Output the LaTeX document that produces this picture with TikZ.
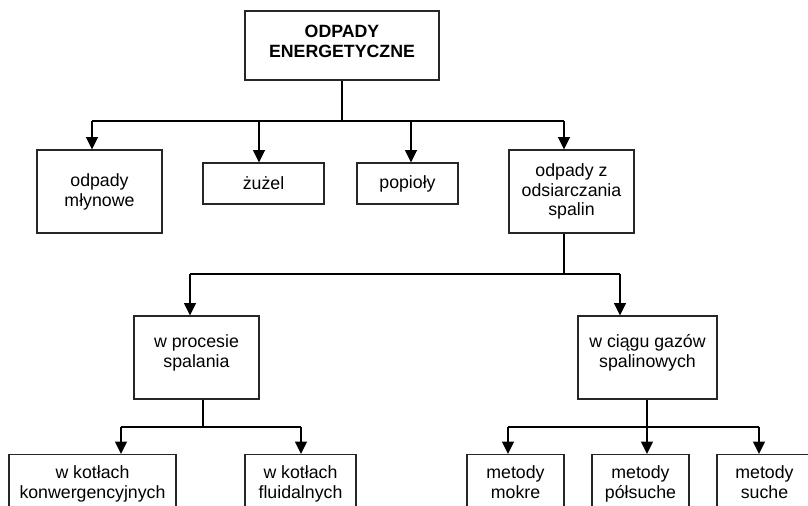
\documentclass[tikz,border=0pt]{standalone}
\usepackage{fontspec}
\setmainfont{Liberation Sans}
\usetikzlibrary{arrows.meta}

\begin{document}
\begin{tikzpicture}[x=0.02cm, y=-0.02cm, >={Triangle[length=7pt, width=6.5pt]},
  box/.style={draw=black!85, line width=0.6pt, align=center, inner sep=2pt,
    font=\fontsize{10.1}{11.3}\selectfont},
  link/.style={line width=0.6pt},
  arr/.style={line width=1.4pt, ->}]
  \useasboundingbox (0, 0) rectangle (808, 506);
  \clip (0, 0) rectangle (808, 506);

  \node[box, minimum width=3.88cm, minimum height=1.38cm, text depth=5pt,
    font=\fontsize{10.1}{11.3}\selectfont\bfseries]
    (top) at (342, 45.5) {ODPADY\\ENERGETYCZNE};

  \node[box, minimum width=2.5cm, minimum height=1.66cm] (mlyn) at (99.5, 191.5) {odpady\\młynowe};
  \node[box, minimum width=2.42cm, minimum height=0.82cm] (zuzel) at (263.5, 183.5) {żużel};
  \node[box, minimum width=2.02cm, minimum height=0.82cm] (popiol) at (407.5, 183.5) {popioły};
  \node[box, minimum width=2.5cm, minimum height=1.66cm] (odsi) at (571.5, 191.5) {odpady z\\odsiarczania\\spalin};

  \node[box, minimum width=2.5cm, minimum height=1.66cm, text depth=7.6pt] (proces) at (196.5, 357.5) {w procesie\\spalania};
  \node[box, minimum width=2.78cm, minimum height=1.66cm, text depth=7.6pt] (ciag) at (647.5, 357.5) {w ciągu gazów\\spalinowych};

  \node[box, anchor=north, minimum width=3.34cm, inner ysep=6.5pt] (konw) at (92.5, 454) {w kotłach\\konwergencyjnych};
  \node[box, anchor=north, minimum width=2.22cm, inner ysep=6.5pt] (fluid) at (300.5, 454) {w kotłach\\fluidalnych};
  \node[box, anchor=north, minimum width=1.94cm, inner ysep=6.5pt] (mokre) at (515.5, 454) {metody\\mokre};
  \node[box, anchor=north, minimum width=1.94cm, inner ysep=6.5pt] (polsuche) at (640.5, 454) {metody\\półsuche};
  \node[box, anchor=north, minimum width=1.9cm, inner ysep=6.5pt] (suche) at (764.5, 454) {metody\\suche};

  \coordinate (a1) at (92, 121);
  \coordinate (a2) at (259, 121);
  \coordinate (a3) at (411, 121);
  \coordinate (a4) at (564, 121);
  \draw[link] (top.south) -- (top.south |- a1);
  \draw[link] (a1) -- (a4);
  \draw[arr] (a1) -- (a1 |- mlyn.north);
  \draw[arr] (a2) -- (a2 |- zuzel.north);
  \draw[arr] (a3) -- (a3 |- popiol.north);
  \draw[arr] (a4) -- (a4 |- odsi.north);

  \coordinate (b1) at (190, 274);
  \coordinate (b2) at (620, 274);
  \draw[link] (a4 |- odsi.south) -- (a4 |- b1);
  \draw[link] (b1) -- (b2);
  \draw[arr] (b1) -- (b1 |- proces.north);
  \draw[arr] (b2) -- (b2 |- ciag.north);

  \coordinate (c1) at (121, 427);
  \coordinate (c2) at (301, 427);
  \coordinate (c0) at (203, 427);
  \draw[link] (c0 |- proces.south) -- (c0);
  \draw[link] (c1) -- (c2);
  \draw[arr] (c1) -- (c1 |- konw.north);
  \draw[arr] (c2) -- (c2 |- fluid.north);

  \coordinate (d1) at (508, 427);
  \coordinate (d2) at (647, 427);
  \coordinate (d3) at (759, 427);
  \draw[link] (d2 |- ciag.south) -- (d2);
  \draw[link] (d1) -- (d3);
  \draw[arr] (d1) -- (d1 |- mokre.north);
  \draw[arr] (d2) -- (d2 |- polsuche.north);
  \draw[arr] (d3) -- (d3 |- suche.north);
\end{tikzpicture}
\end{document}
